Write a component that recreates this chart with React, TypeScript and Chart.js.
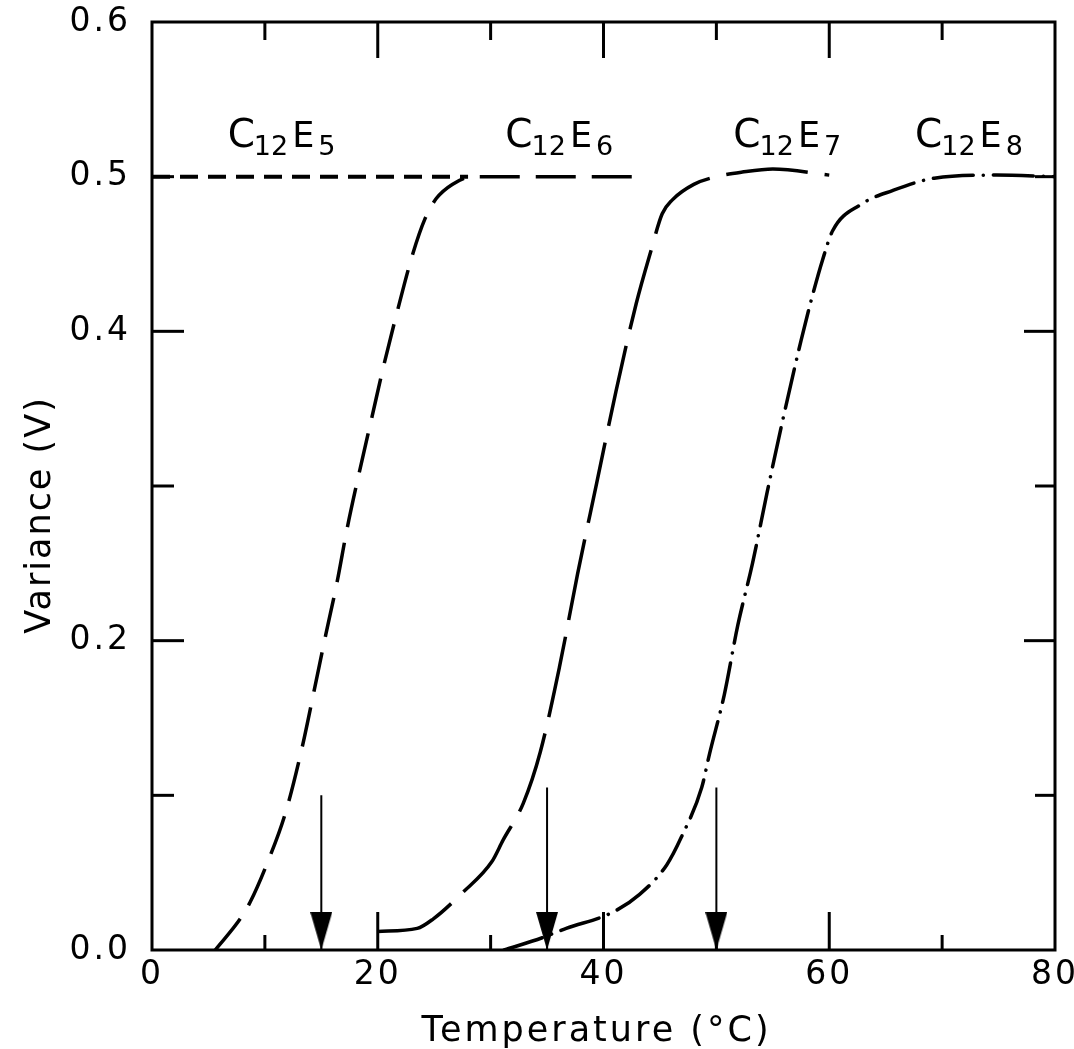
import React, { useEffect, useRef } from "react";
import { Chart, registerables } from "chart.js";

Chart.register(...registerables);

// ---- axis ticks ----
const xTicks = [0, 10, 20, 30, 40, 50, 60, 70, 80];
const xTickLabels = ["0", "", "20", "", "40", "", "60", "", "80"];
const xMajor = [20, 40, 60];
const xMinor = [10, 30, 50, 70];
const yTicks = [0, 0.1, 0.2, 0.3, 0.4, 0.5, 0.6];
const yTickLabels = ["0.0", "", "0.2", "", "0.4", "0.5", "0.6"];
const yMajor = [0.2, 0.4];
const yMinor = [0.1, 0.3, 0.5];

const xTitle = "Temperature (°C)";
const yTitle = "Variance (V)";

// ---- series ----
const c12e5T = [0, 28];
const c12e5V = [0.5, 0.5];

const c12e6T = [5.6, 7.8, 8.7, 10.2, 11.8, 13.3, 14.4, 15.4, 16.4, 17.3, 18.4, 19.5, 20.5, 21.7, 23.1, 24.2, 25.2, 26.6, 28.4, 35, 43];
const c12e6V = [0, 0.02, 0.031, 0.056, 0.088, 0.131, 0.169, 0.204, 0.238, 0.273, 0.31, 0.345, 0.377, 0.412, 0.45, 0.473, 0.486, 0.495, 0.5, 0.5, 0.5];

const c12e7T = [20, 23.5, 24.9, 27.5, 30.1, 31.1, 32.9, 34.4, 36.1, 37.7, 39.4, 41.1, 42.9, 44.2, 45.2, 46.1, 48, 50, 52.3, 55, 60];
const c12e7V = [0.012, 0.014, 0.02, 0.037, 0.057, 0.071, 0.095, 0.128, 0.183, 0.243, 0.302, 0.361, 0.418, 0.452, 0.476, 0.485, 0.495, 0.5, 0.503, 0.505, 0.501];

const c12e8T = [31.2, 34.6, 36.7, 40.7, 43.2, 45.6, 46.9, 48.7, 49.4, 50.7, 51.9, 53.2, 54.5, 55.8, 57.5, 58.4, 59.4, 60.3, 62.8, 65.6, 69.3, 74.8, 80];
const c12e8V = [0, 0.008, 0.014, 0.024, 0.036, 0.055, 0.073, 0.105, 0.127, 0.165, 0.21, 0.25, 0.296, 0.34, 0.394, 0.42, 0.446, 0.465, 0.482, 0.491, 0.499, 0.501, 0.5];

// arrows marking transition temperatures
const arrowT = [15, 35, 50];
const arrowTopV = [0.1, 0.105, 0.105];

// curve labels  C_{12}E_{n}
const labelSub2 = ["5", "6", "7", "8"];
const labelT = [6.7, 31.3, 51.5, 67.6];
const labelV = [0.519, 0.519, 0.519, 0.519];

const FONT = '"DejaVu Sans", "Liberation Sans", sans-serif';

const pts = (t: number[], v: number[]) => t.map((x, i) => ({ x, y: v[i] }));

function makeArrowHead(): HTMLCanvasElement {
  const c = document.createElement("canvas");
  c.width = 22;
  c.height = 76;
  const g = c.getContext("2d")!;
  g.fillStyle = "#000";
  g.beginPath();
  g.moveTo(0, 0);
  g.lineTo(22, 0);
  g.lineTo(11, 38);
  g.closePath();
  g.fill();
  return c;
}

const framePlugin = {
  id: "frameTicks",
  beforeLayout(chart: any) {
    chart.ctx.letterSpacing = "3px";
  },
  beforeDraw(chart: any) {
    const ctx = chart.ctx;
    ctx.letterSpacing = "3px";
    ctx.save();
    ctx.fillStyle = "#fff";
    ctx.fillRect(0, 0, chart.width, chart.height);
    ctx.restore();
  },
  afterDraw(chart: any) {
    const ctx = chart.ctx;
    const a = chart.chartArea;
    const xs = chart.scales.x;
    const ys = chart.scales.y;
    ctx.save();
    ctx.strokeStyle = "#000";
    ctx.lineWidth = 3;
    ctx.lineCap = "butt";
    ctx.strokeRect(a.left, a.top, a.right - a.left, a.bottom - a.top);
    const line = (x1: number, y1: number, x2: number, y2: number) => {
      ctx.beginPath();
      ctx.moveTo(x1, y1);
      ctx.lineTo(x2, y2);
      ctx.stroke();
    };
    xMajor.forEach((v) => {
      const p = xs.getPixelForValue(v);
      line(p, a.bottom, p, a.bottom - 38);
      line(p, a.top, p, a.top + 36);
    });
    xMinor.forEach((v) => {
      const p = xs.getPixelForValue(v);
      line(p, a.bottom, p, a.bottom - 15);
      line(p, a.top, p, a.top + 18);
    });
    yMajor.forEach((v) => {
      const p = ys.getPixelForValue(v);
      line(a.left, p, a.left + 32, p);
      line(a.right, p, a.right - 31, p);
    });
    yMinor.forEach((v) => {
      const p = ys.getPixelForValue(v);
      line(a.left, p, a.left + 22, p);
      line(a.right, p, a.right - 20, p);
    });

    // axis titles
    ctx.fillStyle = "#000";
    ctx.letterSpacing = "3px";
    ctx.font = `35px ${FONT}`;
    ctx.textAlign = "center";
    ctx.textBaseline = "alphabetic";
    ctx.fillText(xTitle, (a.left + a.right) / 2 - 7, a.bottom + 91);
    ctx.save();
    ctx.translate(a.left - 102, a.top + 493);
    ctx.rotate(-Math.PI / 2);
    ctx.letterSpacing = "2px";
    ctx.fillText(yTitle, 0, 0);
    ctx.restore();

    // curve labels
    ctx.textAlign = "left";
    ctx.letterSpacing = "0px";
    labelSub2.forEach((s, i) => {
      let x = xs.getPixelForValue(labelT[i]);
      const y = ys.getPixelForValue(labelV[i]);
      ctx.font = `39px ${FONT}`;
      ctx.fillText("C", x, y);
      x += ctx.measureText("C").width - 1;
      ctx.font = `27px ${FONT}`;
      ctx.fillText("12", x, y + 8);
      x += ctx.measureText("12").width + 4;
      ctx.font = `35px ${FONT}`;
      ctx.fillText("E", x, y);
      x += ctx.measureText("E").width + 4;
      ctx.font = `27px ${FONT}`;
      ctx.fillText(s, x, y + 8);
    });
    ctx.restore();
  },
};

export default function App() {
  const ref = useRef<HTMLCanvasElement | null>(null);

  useEffect(() => {
    if (!ref.current) return;
    const head = makeArrowHead();
    const curve = (label: string, t: number[], v: number[], dash: number[], width: number, cap: string) => ({
      label,
      data: pts(t, v),
      borderColor: "#000",
      backgroundColor: "#000",
      borderWidth: width,
      borderDash: dash,
      borderCapStyle: cap,
      pointRadius: 0,
      cubicInterpolationMode: "monotone",
      fill: false,
    });
    const arrows = arrowT.map((t, i) => ({
      label: `arrow${i}`,
      data: [
        { x: t, y: arrowTopV[i] },
        { x: t, y: 0 },
      ],
      borderColor: "#000",
      backgroundColor: "#000",
      borderWidth: 2,
      tension: 0,
      pointRadius: [0, 5],
      pointStyle: head,
      fill: false,
    }));

    const chart = new Chart(ref.current, {
      type: "line",
      data: {
        datasets: [
          curve("C12E5", c12e5T, c12e5V, [18, 10], 4, "butt"),
          curve("C12E6", c12e6T, c12e6V, [40, 16], 3.5, "butt"),
          curve("C12E7", c12e7T, c12e7V, [82, 17], 3.5, "butt"),
          curve("C12E8", c12e8T, c12e8V, [40, 10, 0.1, 10], 3.5, "round"),
          ...arrows,
        ] as any,
      },
      options: {
        responsive: false,
        devicePixelRatio: 1,
        animation: false,
        events: [],
        layout: { padding: { left: 0, right: 19, top: 22, bottom: 0 } },
        plugins: { legend: { display: false }, tooltip: { enabled: false } },
        scales: {
          x: {
            type: "linear",
            min: 0,
            max: 80,
            grid: { display: false, drawTicks: false },
            border: { display: false },
            afterBuildTicks: (s: any) => {
              s.ticks = xTicks.map((value) => ({ value }));
            },
            afterFit: (s: any) => {
              s.height = 99;
              s.paddingLeft = 0;
              s.paddingRight = 0;
            },
            ticks: {
              autoSkip: false,
              maxRotation: 0,
              padding: 6,
              color: "#000",
              font: { family: FONT, size: 33 },
              callback: (value: any) => xTickLabels[xTicks.indexOf(Number(value))] ?? "",
            },
          },
          y: {
            type: "linear",
            min: 0,
            max: 0.6,
            grid: { display: false, drawTicks: false },
            border: { display: false },
            afterBuildTicks: (s: any) => {
              s.ticks = yTicks.map((value) => ({ value }));
            },
            afterFit: (s: any) => {
              s.width = 152;
              s.paddingTop = 0;
              s.paddingBottom = 0;
            },
            ticks: {
              autoSkip: false,
              padding: 21,
              color: "#000",
              font: { family: FONT, size: 33 },
              callback: (value: any) => yTickLabels[yTicks.indexOf(Number(value))] ?? "",
            },
          },
        },
      } as any,
      plugins: [framePlugin as any],
    });
    return () => chart.destroy();
  }, []);

  return (
    <div style={{ position: "fixed", left: 0, top: 0, width: 1074, height: 1049, background: "#fff" }}>
      <canvas ref={ref} width={1074} height={1049} style={{ display: "block", width: 1074, height: 1049 }} />
    </div>
  );
}
